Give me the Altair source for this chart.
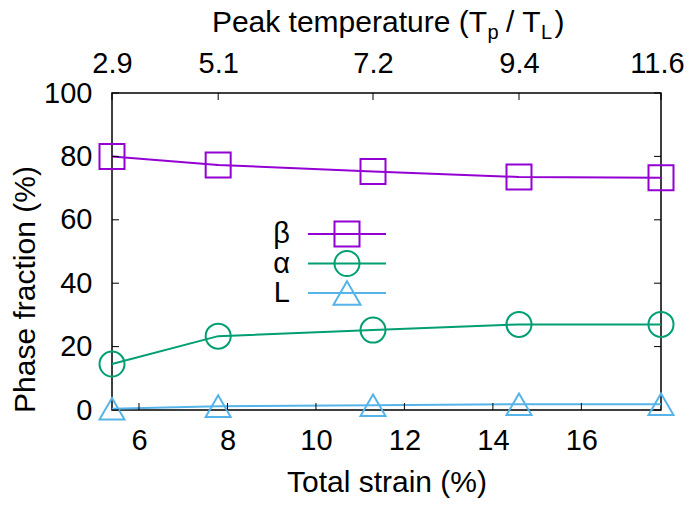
import json
import altair as alt
import pandas as pd

# ---- data ----
strain = [5.39, 7.79, 11.29, 14.59, 17.8]          # Total strain (%)
peak_temp = ["2.9", "5.1", "7.2", "9.4", "11.6"]   # Tp / TL labels on top axis
beta = [80.0, 77.3, 75.2, 73.5, 73.3]
alpha = [14.5, 23.3, 25.2, 27.0, 27.0]
liquid = [0.4, 1.2, 1.5, 1.8, 1.8]

series_names = ["β", "α", "L"]
series_values = [beta, alpha, liquid]
colors = ["#9400D3", "#009E73", "#56B4E9"]
shapes = ["square", "circle", "triangle-up"]
sizes = [625, 625, 729]

bottom_ticks = [6, 8, 10, 12, 14, 16]
y_ticks = [0, 20, 40, 60, 80, 100]

FONT = "Liberation Sans"
FS = 29
TFS = 30
W, H = 549, 317

rows = []
for name, vals in zip(series_names, series_values):
    for s, v in zip(strain, vals):
        rows.append({"series": name, "strain": s, "value": v})
df = pd.DataFrame(rows)

xscale = alt.Scale(domain=[min(strain), max(strain)], nice=False, zero=False)
yscale = alt.Scale(domain=[0, 100], nice=False, zero=True)
color_scale = alt.Scale(domain=series_names, range=colors)
shape_scale = alt.Scale(domain=series_names, range=shapes)
size_scale = alt.Scale(domain=series_names, range=sizes)

lines = alt.Chart(df).mark_line(strokeWidth=2).encode(
    x=alt.X("strain:Q", scale=xscale,
            axis=alt.Axis(orient="bottom", values=bottom_ticks, title="Total strain (%)",
                          ticks=False, domain=False, grid=False, labelPadding=16,
                          titlePadding=12, labelOverlap=False)),
    y=alt.Y("value:Q", scale=yscale,
            axis=alt.Axis(values=y_ticks, title="Phase fraction (%)", ticks=False,
                          domain=False, grid=False, labelPadding=20, titlePadding=3,
                          titleY=196, labelOverlap=False)),
    color=alt.Color("series:N", scale=color_scale, legend=None),
)

points = alt.Chart(df).mark_point(filled=False, strokeWidth=2, opacity=1).encode(
    x=alt.X("strain:Q", scale=xscale, axis=None),
    y=alt.Y("value:Q", scale=yscale, axis=None),
    color=alt.Color("series:N", scale=color_scale, legend=None),
    shape=alt.Shape("series:N", scale=shape_scale, legend=None),
    size=alt.Size("series:N", scale=size_scale, legend=None),
)

TL = 7
ydf = pd.DataFrame({"v": y_ticks})
left_ticks = alt.Chart(ydf).mark_rule(color="black", strokeWidth=1).encode(
    y=alt.Y("v:Q", scale=yscale, axis=None), x=alt.value(0), x2=alt.value(TL))
right_ticks = alt.Chart(ydf).mark_rule(color="black", strokeWidth=1).encode(
    y=alt.Y("v:Q", scale=yscale, axis=None), x=alt.value(W - TL), x2=alt.value(W))
bdf = pd.DataFrame({"v": bottom_ticks})
bottom_tk = alt.Chart(bdf).mark_rule(color="black", strokeWidth=1).encode(
    x=alt.X("v:Q", scale=xscale, axis=None), y=alt.value(H - TL), y2=alt.value(H))

label_expr = "{}[indexof({}, datum.value)]".format(json.dumps(peak_temp), json.dumps(strain))
last_offset = {"condition": {"test": "datum.value == {}".format(max(strain)), "value": -4},
               "value": 0}
tdf = pd.DataFrame({"v": strain})
top_tk = alt.Chart(tdf).mark_rule(color="black", strokeWidth=1).encode(
    x=alt.X("v:Q", scale=xscale,
            axis=alt.Axis(orient="top", values=strain, labelExpr=label_expr, ticks=False,
                          domain=False, grid=False, labelPadding=15, title=None,
                          labelOverlap=False, labelFlush=False, labelOffset=last_offset)),
    y=alt.value(0), y2=alt.value(TL))

# ---- top title with subscripts (anchored piece by piece) ----
SUB = 20
base_y = -61
sub_dy = 7
anchor = 375  # right end of "Peak temperature (T" in plot coords
title_pieces = [
    ("Peak temperature (T", TFS, anchor, 0, "right"),
    ("p", SUB, anchor + 0.5, sub_dy, "left"),
    ("/ T", TFS, anchor + 19, 0, "left"),
    ("L", SUB, anchor + 19 + 35, sub_dy, "left"),
    (")", TFS, anchor + 19 + 35 + 13.5, 0, "left"),
]
title_layers = []
for txt, fs, px, dy, al in title_pieces:
    title_layers.append(
        alt.Chart(pd.DataFrame({"t": [txt]})).mark_text(
            align=al, baseline="alphabetic", font=FONT, fontSize=fs, color="black"
        ).encode(x=alt.value(px), y=alt.value(base_y + dy), text="t:N"))

# ---- legend ----
legend_layers = []
leg_y0, leg_dy = 141, 29.5
for i, (name, c, shp, sz) in enumerate(zip(series_names, colors, shapes, sizes)):
    ly = leg_y0 + i * leg_dy
    ldf = pd.DataFrame({"s": [name]})
    legend_layers.append(alt.Chart(ldf).mark_text(
        align="right", baseline="middle", font=FONT, fontSize=FS, color="black"
    ).encode(x=alt.value(178), y=alt.value(ly), text="s:N"))
    legend_layers.append(alt.Chart(ldf).mark_rule(color=c, strokeWidth=2).encode(
        x=alt.value(196), x2=alt.value(274), y=alt.value(ly)))
    legend_layers.append(alt.Chart(ldf).mark_point(
        shape=shp, size=sz, color=c, filled=False, strokeWidth=2, opacity=1
    ).encode(x=alt.value(235), y=alt.value(ly)))

chart = alt.layer(
    lines, points, left_ticks, right_ticks, bottom_tk, top_tk,
    *title_layers, *legend_layers
).resolve_axis(x="independent", y="independent").properties(
    width=W, height=H,
    padding={"left": 104, "top": 85, "right": 24, "bottom": 90},
    autosize=alt.AutoSizeParams(type="none"),
).configure_view(stroke="black", strokeWidth=1.5).configure_axis(
    labelFont=FONT, titleFont=FONT, labelFontSize=FS, titleFontSize=TFS,
    titleFontWeight="normal", labelColor="black", titleColor="black"
)

chart.save("out.html", embed_options={"renderer": "svg", "actions": False})
